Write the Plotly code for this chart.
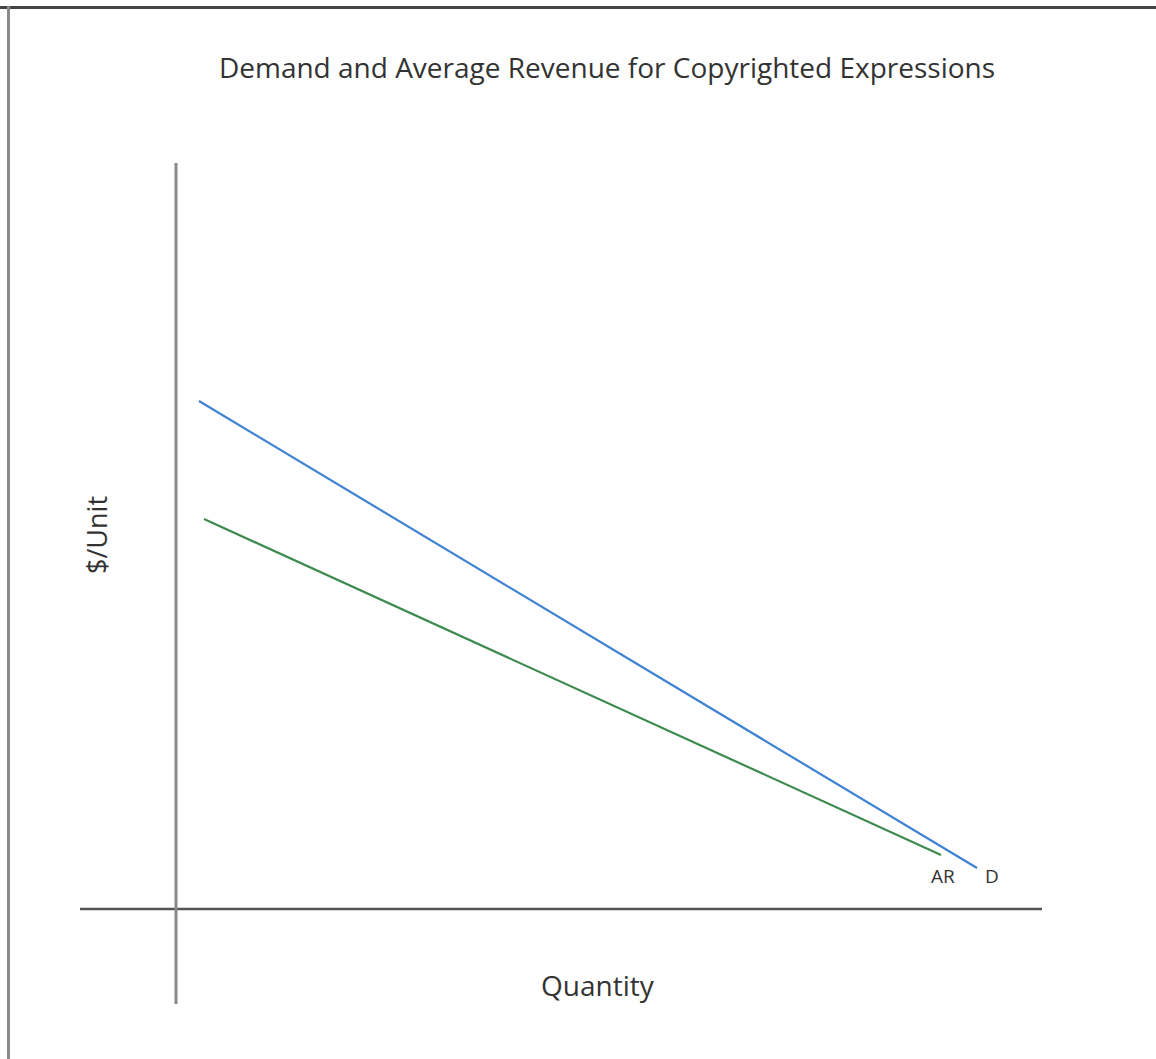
import plotly.graph_objects as go

# Data (abstract units: quantity on x, $/unit on y)
demand_q = [2.3, 80.1]
demand_p = [50.8, 4.1]
ar_q = [2.8, 76.5]
ar_p = [39.0, 5.4]

# Axis extents
x_axis_q = [-9.6, 86.6]
y_axis_p = [-9.5, 74.6]

title_text = "Demand and Average Revenue for Copyrighted Expressions"
x_label = "Quantity"
y_label = "$/Unit"
demand_label = "D"
ar_label = "AR"

FONT = "Open Sans"
TXT = "#333333"

fig = go.Figure()

# Axes drawn as lines
fig.add_trace(go.Scatter(x=x_axis_q, y=[0, 0], mode="lines",
                         line=dict(color="#555555", width=2.5), hoverinfo="skip"))
fig.add_trace(go.Scatter(x=[0, 0], y=y_axis_p, mode="lines",
                         line=dict(color="#8a8a8a", width=3), hoverinfo="skip"))

# Curves
fig.add_trace(go.Scatter(x=demand_q, y=demand_p, mode="lines",
                         line=dict(color="#3f82d2", width=2.2), name=demand_label))
fig.add_trace(go.Scatter(x=ar_q, y=ar_p, mode="lines",
                         line=dict(color="#3c8a4c", width=2.2), name=ar_label))

# Curve labels
fig.add_annotation(x=demand_q[-1] + 1.45, y=demand_p[-1] - 0.8, text=demand_label,
                   showarrow=False, font=dict(family=FONT, size=19, color=TXT))
fig.add_annotation(x=ar_q[-1] + 0.2, y=ar_p[-1] - 2.1, text=ar_label,
                   showarrow=False, font=dict(family=FONT, size=19, color=TXT))

# Axis titles
fig.add_annotation(x=42.2, y=-7.6, text=x_label, showarrow=False,
                   font=dict(family=FONT, size=28, color=TXT))
fig.add_annotation(x=-8.0, y=37.4, text=y_label, showarrow=False, textangle=-90,
                   font=dict(family=FONT, size=27, color=TXT))

# Frame (top and left border)
fig.add_shape(type="line", xref="paper", yref="paper", x0=0, x1=1,
              y0=1 - 7.5 / 1059, y1=1 - 7.5 / 1059, line=dict(color="#444444", width=3))
fig.add_shape(type="line", xref="paper", yref="paper", x0=8.5 / 1156, x1=8.5 / 1156,
              y0=0, y1=1 - 6 / 1059, line=dict(color="#8a8a8a", width=3))

fig.update_layout(
    width=1156, height=1059,
    margin=dict(l=0, r=0, t=0, b=0),
    paper_bgcolor="white", plot_bgcolor="white",
    showlegend=False,
    title=dict(text=title_text, x=607 / 1156, xanchor="center",
               y=1 - 68 / 1059, yanchor="middle",
               font=dict(family=FONT, size=28, color=TXT)),
    xaxis=dict(range=[-17.6, 98.0], visible=False, fixedrange=True),
    yaxis=dict(range=[-15.0, 90.9], visible=False, fixedrange=True),
)

fig.write_html("out.html", config={"displayModeBar": False},
               post_script="document.body.style.margin='0';")
